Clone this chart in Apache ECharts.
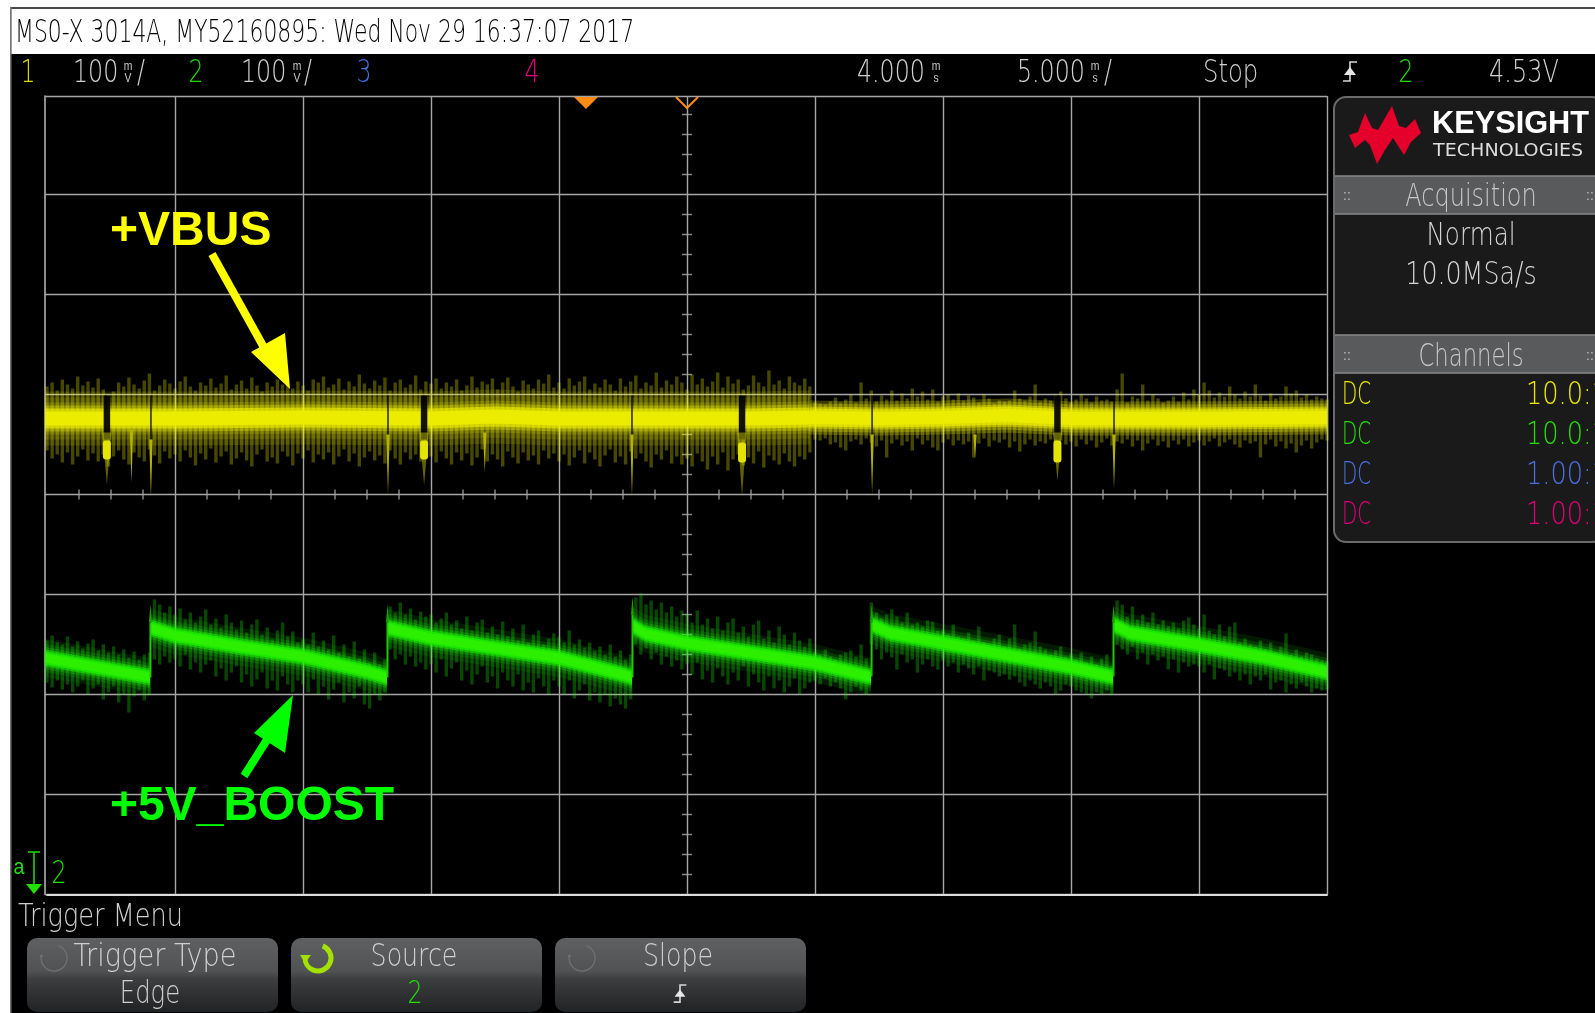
<!DOCTYPE html>
<html><head><meta charset="utf-8">
<style>html,body{margin:0;padding:0;background:#000;overflow:hidden}#c{width:1595px;height:1013px;filter:blur(.45px)}</style>
<script src="https://cdn.jsdelivr.net/npm/echarts@6/dist/echarts.min.js"></script></head>
<body><div id="c"></div>
<script>
// Trace centre lines: time in ms from screen centre, level in mV from screen centre
const yellowTimes=[-25.08,-20,-15,-10,-7.5,-5,0,2.5,4.8,7.5,10,12.5,15,17.5,20,25];
const yellowLevels=[76,76,77,76,78,76,76,76,77,76,77,79,76,76,76,77];
const greenTimes=[-25.08,-20.98,null,-20.94,-20,-17.5,-15,-12.5,-11.72,null,-11.68,-10,-7.5,-5,-2.5,-2.15,null,-2.11,-1.64,0,2.5,5,7.19,null,7.23,7.93,10,12.5,15,16.64,null,16.68,17.3,20,22.5,25];
const greenLevels=[-163.5,-182.5,null,-133.5,-141,-152,-162,-177,-183,null,-133.5,-143.5,-153.5,-163.5,-180,-183,null,-131.5,-139,-148.5,-158.5,-168.5,-182.5,null,-130.5,-138.5,-148.5,-160.5,-172.5,-182.5,null,-130.5,-138.5,-150.5,-162.5,-177.5];
const noiseStepMs=0.2, noiseStartMs=-25;
const yellowTop=[
108,112,104,115,110,106,118,109,113,107,116,105,100,103,112,108,117,110,106,114,121,104,109,115,111,
106,113,118,108,104,112,109,116,107,111,119,105,110,114,106,117,109,103,112,108,115,110,120,106,113,
109,104,115,112,118,107,110,116,105,113,108,120,111,106,114,109,117,104,112,115,107,110,119,105,113,
111,116,106,112,108,115,104,109,118,107,113,110,116,105,112,117,108,103,114,110,106,115,111,120,107,
112,106,116,109,113,118,105,111,107,115,110,104,116,108,113,119,106,112,109,122,107,114,110,118,112,
105,120,110,116,108,113,122,107,118,111,115,105,109,119,112,108,124,110,114,106,118,112,109,116,108,
92,91,90,93,97,92,95,100,92,112,96,104,93,99,95,104,94,101,96,106,98,103,95,105,93,
98,100,95,101,94,99,97,92,100,96,91,94,93,94,104,96,94,98,110,93,96,94,100,103,96,
92,95,100,96,92,98,94,95,93,105,121,92,98,96,110,94,100,96,92,94,98,93,102,95,105,
100,112,104,97,102,98,108,100,96,103,98,110,99,94,101,96,98,108,101,104,97,100,95,98,96,95];
const yellowBottom=[
44,36,40,32,42,30,38,45,34,41,33,40,28,38,44,35,30,42,37,33,45,39,31,43,36,
40,33,44,37,29,41,35,46,32,38,43,30,36,42,34,28,40,45,33,37,31,43,38,29,41,
36,44,32,40,35,42,30,38,45,33,41,28,37,43,34,39,31,44,36,30,42,35,40,33,45,
38,32,43,36,30,42,34,41,29,37,45,33,40,35,28,43,37,31,42,34,39,30,44,36,41,
33,40,29,37,44,31,42,35,28,39,45,32,38,30,43,36,41,33,27,40,35,44,31,38,30,
36,28,41,33,25,38,30,42,24,35,40,29,37,31,43,27,39,34,30,41,33,28,38,35,42,
55,54,56,50,52,47,44,53,55,50,56,52,48,54,37,51,55,49,53,44,56,50,54,47,44,
52,55,49,54,50,53,37,51,56,48,54,52,55,47,53,43,50,55,49,53,51,55,47,54,50,
53,48,55,50,54,47,52,56,49,53,51,55,48,54,44,51,55,49,53,47,54,50,55,48,52,
54,49,53,56,48,52,55,50,47,54,51,53,37,50,55,48,53,46,51,42,49,54,46,52,55,54];
const greenTop=[
-146,-141,-148,-150,-142,-152,-147,-154,-149,-145,-156,-150,-158,-152,-160,-155,-163,-157,-165,-160,-158,-105,-110,-118,-112,
-120,-114,-125,-118,-128,-122,-115,-130,-124,-133,-120,-128,-135,-126,-138,-130,-125,-140,-133,-145,-136,-128,-142,-137,-148,
-145,-150,-138,-152,-146,-155,-141,-158,-150,-162,-147,-164,-155,-168,-158,-170,-165,-112,-118,-108,-120,-114,-125,-117,-122,
-120,-128,-124,-118,-130,-126,-134,-122,-136,-128,-125,-138,-132,-140,-127,-142,-134,-146,-130,-148,-140,-136,-150,-144,-139,
-142,-148,-136,-150,-145,-153,-148,-156,-152,-160,-150,-162,-156,-165,-160,-103,-99,-110,-106,-115,-108,-118,-112,-122,-116,
-120,-128,-116,-130,-124,-134,-122,-136,-128,-124,-138,-132,-142,-130,-126,-144,-136,-148,-132,-140,-150,-138,-146,-152,-144,
-158,-160,-155,-162,-165,-160,-158,-156,-162,-150,-164,-108,-118,-124,-120,-115,-122,-128,-118,-130,-128,-132,-126,-127,-136,
-136,-140,-130,-142,-144,-138,-146,-132,-148,-150,-144,-140,-152,-144,-130,-154,-150,-148,-137,-152,-155,-160,-156,-152,-162,
-160,-165,-158,-168,-162,-170,-164,-160,-172,-106,-110,-122,-112,-125,-120,-128,-118,-130,-126,-132,-128,-134,-126,-123,-130,
-134,-120,-136,-140,-130,-142,-132,-128,-148,-144,-150,-152,-146,-155,-148,-158,-152,-139,-160,-155,-162,-158,-160,-164,-166,-167];
const greenBottom=[
-188,-193,-186,-195,-190,-198,-192,-186,-200,-194,-190,-205,-198,-192,-208,-200,-218,-202,-196,-206,-200,-165,-170,-162,-168,
-165,-172,-160,-175,-168,-178,-170,-166,-182,-174,-186,-178,-172,-188,-180,-192,-185,-178,-194,-186,-196,-182,-190,-198,-186,
-190,-198,-185,-200,-192,-205,-195,-188,-208,-198,-204,-192,-210,-214,-200,-206,-198,-155,-165,-160,-170,-162,-172,-168,-175,
-170,-178,-165,-182,-174,-168,-186,-176,-190,-180,-172,-188,-182,-194,-178,-186,-192,-180,-196,-188,-198,-184,-192,-200,-186,
-192,-200,-186,-204,-196,-190,-206,-198,-208,-200,-212,-204,-210,-214,-205,-150,-160,-154,-165,-158,-170,-162,-172,-166,-175,
-170,-180,-168,-185,-176,-188,-174,-182,-190,-178,-186,-172,-192,-180,-188,-196,-182,-194,-186,-198,-192,-184,-200,-194,-188,
-186,-190,-184,-192,-188,-194,-205,-198,-192,-196,-200,-150,-155,-165,-158,-163,-175,-160,-168,-165,-178,-170,-165,-172,-175,
-165,-172,-168,-178,-170,-174,-180,-172,-186,-176,-178,-182,-180,-185,-182,-188,-192,-186,-190,-194,-188,-192,-200,-196,-190,
-192,-196,-198,-200,-204,-198,-200,-196,-200,-150,-155,-160,-152,-165,-158,-170,-160,-166,-162,-175,-165,-178,-168,-172,-170,
-172,-178,-170,-185,-174,-176,-182,-178,-186,-180,-190,-182,-186,-180,-195,-188,-186,-198,-190,-194,-188,-192,-198,-194,-196,-195];
// Green rising edges: time, low, peak
const greenEdgeTimes=[-20.96,-11.7,-2.13,7.21,16.66];
const greenEdgeLow=[-183,-183,-183,-182,-182];
const greenEdgePeak=[-110,-110,-102,-110,-110];
// Yellow droops: time, start level, lowest level
const droopTimes=[-21.7,-20.94,-11.68,-7.9,-2.15,7.23,11.25,16.68];
const droopStart=[65,55,60,62,60,60,60,60];
const droopLow=[12,-3,1,22,-2,1,36,6];
const blobTimes=[-22.66,-10.27,2.15,14.47];
const blobTailLow=[10,9,-2,14];
const blobBright=[[54,35],[54,35],[52,32],[54,32]];
const notchLevels=[99,55];
const zoneSplitMs=4.8;
const channelRows=[['#e8e800','10.0:1'],['#24e000','10.0:1'],['#4a6fe0','1.00:1'],['#e0007a','1.00:1']];

const xMinor=[],yMinor=[];
for(let i=1;i<40;i++){if(i%4)xMinor.push([-25+1.25*i,0]);}
for(let i=1;i<40;i++){if(i%5)yMinor.push([0,-400+20*i]);}

const FONT='"DejaVu Sans"', FW='200', SX=.74;
const noiseData=(top,bot)=>top.map((h,i)=>[noiseStartMs+noiseStepMs*i,bot[i],h]);
const pairs=(ts,vs)=>ts.map((t,i)=>[t,vs[i]]);
function rects(w,fill,z,data,name,r){return {type:'custom',name,silent:true,z,data,encode:{x:0,y:[1,2]},clip:false,animation:false,
  renderItem:(p,api)=>{const a=api.coord([api.value(0),api.value(2)]),b=api.coord([api.value(0),api.value(1)]);
    return {type:'rect',shape:{x:a[0]-w/2,y:a[1],width:w,height:b[1]-a[1],r:r||0},style:{fill}};}};}
function spikes(w,fill,z,data,name){return {type:'custom',name,silent:true,z,data,encode:{x:0,y:[1,2]},animation:false,
  renderItem:(p,api)=>{const a=api.coord([api.value(0),api.value(2)]),b=api.coord([api.value(0),api.value(1)]);
    return {type:'polygon',shape:{points:[[a[0]-w/2,a[1]],[a[0]+w/2,a[1]],[b[0],b[1]]]},style:{fill}};}};}
function band(data,width,color,z,name){return {type:'line',name,silent:true,z,data,symbol:'none',clip:false,animation:false,
  lineStyle:{width,color,cap:'butt',join:'round'}};}
// sawtooth band: each ramp is one polygon with upright ends
const gSegs=[];{let cur=[];greenTimes.forEach((t,i)=>{if(t===null){gSegs.push(cur);cur=[];}else cur.push([t,greenLevels[i]]);});gSegs.push(cur);}
function ramp(half,fill,z,name){return {type:'custom',name,silent:true,z,clip:false,animation:false,data:gSegs.map((s,i)=>[s[0][0],s[0][1],i]),encode:{x:0,y:1},
  renderItem:(p,api)=>{const px=gSegs[api.value(2)].map(q=>api.coord(q));
    return {type:'polygon',shape:{points:px.map(q=>[q[0],q[1]-half]).concat(px.slice().reverse().map(q=>[q[0],q[1]+half]))},style:{fill}};}};}

const yNoisy=pairs(yellowTimes,yellowLevels).filter(p=>p[0]<=zoneSplitMs);
const yQuiet=pairs(yellowTimes,yellowLevels).filter(p=>p[0]>=zoneSplitMs);

const series=[
 {type:'scatter',name:'xTicks',silent:true,z:1,data:xMinor,symbol:'rect',symbolSize:[1.5,10],itemStyle:{color:'#a8a8a8'},animation:false},
 {type:'scatter',name:'yTicks',silent:true,z:1,data:yMinor,symbol:'rect',symbolSize:[10,1.5],itemStyle:{color:'#a8a8a8'},animation:false},
 rects(3.4,'rgba(255,255,0,.28)',3,noiseData(yellowTop,yellowBottom),'CH1 noise'),
 band(yNoisy,54,'rgba(255,255,0,.13)',4,'b0'),band(yNoisy,42,'rgba(255,255,0,.12)',4,'b1'),band(yNoisy,32,'rgba(255,255,0,.16)',4,'b2'),band(yNoisy,26,'rgba(255,255,0,.3)',5,'b3'),band(yNoisy,20,'rgba(245,245,0,.6)',5,'b4'),band(yNoisy,14,'#ecec00',7,'b6'),
 band(yQuiet,34,'rgba(255,255,0,.22)',4,'q1'),band(yQuiet,28,'rgba(255,255,0,.26)',5,'q2'),band(yQuiet,22,'rgba(245,245,0,.45)',5,'q3'),band(yQuiet,18,'rgba(240,240,0,.65)',6,'q4'),band(yQuiet,13,'#ecec00',7,'q5'),
 rects(6.5,'rgba(0,0,0,.92)',8,blobTimes.map(t=>[t,notchLevels[1],notchLevels[0]]),'wide notches'),
 rects(1.8,'rgba(0,0,0,.7)',8,[droopTimes[1],droopTimes[2],droopTimes[4],droopTimes[5],droopTimes[7]].map(t=>[t,notchLevels[1],notchLevels[0]]),'thin notches'),
 spikes(9,'rgba(230,230,0,.42)',9,blobTimes.map((t,i)=>[t,blobTailLow[i],62]),'blob tails'),
 rects(8,'#e4e400',10,blobTimes.map((t,i)=>[t,blobBright[i][1],blobBright[i][0]]),'blobs',3),
 spikes(3.4,'#b4b400',9,droopTimes.map((t,i)=>[t,droopLow[i],droopStart[i]]),'droops'),
 rects(3.4,'rgba(30,255,0,.28)',3,noiseData(greenTop,greenBottom),'CH2 noise'),
 ramp(19,'rgba(30,255,0,.1)',4,'g0'),ramp(14,'rgba(30,255,0,.14)',4,'g1'),ramp(11,'rgba(30,255,0,.22)',4,'g2'),ramp(8.5,'rgba(30,245,0,.5)',5,'g3'),ramp(6.5,'rgba(30,240,0,.8)',6,'g4'),ramp(4.5,'#2cf000',7,'g5'),
 rects(2,'#22c800',8,greenEdgeTimes.map((t,i)=>[t,greenEdgeLow[i],greenEdgePeak[i]-18]),'edges'),
 spikes(3,'#1ea000',8,greenEdgeTimes.map((t,i)=>[t,greenEdgePeak[i],greenEdgePeak[i]-18]),'edge peaks')
];

// ---- instrument furniture (text and panels) ----
const g=[];
const Z=100;
function R(x,y,w,h,fill,r,stroke){g.push({type:'rect',z:Z,silent:true,shape:{x,y,width:w,height:h,r:r||0},style:{fill,stroke:stroke||null,lineWidth:stroke?2:0}});}
function T(x,y,text,size,fill,align,sx,font,weight){g.push({type:'text',z:Z+1,silent:true,x,y,scaleX:sx||SX,style:{text,x:0,y:0,fill,align:align||'left',verticalAlign:'middle',font:(weight||FW)+' '+size+'px '+(font||FONT)}});}
function P(points,fill){g.push({type:'polygon',z:Z+1,silent:true,shape:{points},style:{fill}});}
function L(points,stroke,w){g.push({type:'polyline',z:Z+1,silent:true,shape:{points},style:{stroke,lineWidth:w,fill:null}});}
function stack(x,y,top,bot){T(x,y-6,top,13,'#c8c8c8','center',.8,'"Liberation Sans"','normal');T(x,y+6,bot,13,'#c8c8c8','center',.8,'"Liberation Sans"','normal');}
function trig(cx,cy,s){L([[cx+7*s,cy-10*s],[cx,cy-10*s],[cx,cy+9*s],[cx-7*s,cy+9*s]],'#d8d8d8',1.6);P([[cx-6*s,cy+3*s],[cx+6*s,cy+3*s],[cx,cy-5*s]],'#e8e8e8');}
function ring(cx,cy,r,stroke,w){g.push({type:'arc',z:Z+1,silent:true,shape:{cx,cy,r,startAngle:-1.2,endAngle:3.2,clockwise:true},style:{stroke,lineWidth:w,fill:null}});P([[cx-r-w,cy],[cx-r+w+1,cy],[cx-r,cy+w+3]].map(p=>[p[0],p[1]-3]),stroke);}

// screenshot frame
R(0,0,1595,7,'#ffffff');R(0,0,10,1013,'#ffffff');R(10,7,1585,2,'#4a4a4a');R(10,7,1.5,1006,'#777777');R(11.5,9,1584,45,'#ffffff');
T(15,34,'MS0-X 3014A, MY52160895: Wed Nov 29 16:37:07 2017',32,'#000000','left',.685);
// status line
const gy=74,gc='#d0d0d0',FS=32;
T(28,gy,'1',FS,'#d8d800','center');T(73,gy,'100',FS,gc);stack(128,gy-2,'m','V');T(137,gy,'/',FS,gc);
T(196,gy,'2',FS,'#20e000','center');T(241,gy,'100',FS,gc);stack(297,gy-2,'m','V');T(304,gy,'/',FS,gc);
T(364,gy,'3',FS,'#4a6fe0','center');T(532,gy,'4',FS,'#e0007a','center');
T(857,gy,'4.000',FS,gc);stack(936,gy-2,'m','s');T(1017,gy,'5.000',FS,gc);stack(1095,gy-2,'m','s');T(1104,gy,'/',FS,gc);
T(1203,gy,'Stop',FS,gc,'left',.76);trig(1350,72,1);T(1406,gy,'2',FS,'#20e000','center');T(1489,gy,'4.53V',FS,gc,'left',.75);
// time reference markers
P([[574,97],[598,97],[586,109]],'#ff8a14');
L([[676,97],[687,108],[698,97]],'#ff8a14',2);
// annotations
T(110,232,'+VBUS',48,'#ffff00','left',1,'"Liberation Sans"','bold');
L([[212,254],[272,362]],'#ffff00',8);P([[290,389],[251,352],[285,333]],'#ffff00');
T(110,807,'+5V_BOOST',48,'#00ff00','left',1,'"Liberation Sans"','bold');
L([[244,776],[270,735]],'#00ff00',8);P([[293,695],[254,733],[285,753]],'#00ff00');
// ground/trigger marker
T(19,868,'a',22,'#20e000','center',.9,'"Liberation Sans"','normal');L([[34,852],[34,886]],'#20e000',1.5);L([[28,852],[40,852]],'#20e000',1.5);P([[26,884],[42,884],[34,894]],'#20e000');
T(59,875,'2',FS,'#20e000','center');
// right panel
R(1334,97,270,445,'#1a1a1a',12,'#6a6a6a');
P([[1349,135],[1358,132],[1365,113],[1372,128],[1378,130],[1392,106],[1399,126],[1406,128],[1415,119],[1421,133],[1411,142],[1404,155],[1393,138],[1385,150],[1377,164],[1370,145],[1365,140],[1355,148]],'#e4002b');
T(1432,124,'KEYSIGHT',32,'#ffffff','left',.96,'"Liberation Sans"','bold');
T(1433,151,'TECHNOLOGIES',18,'#dcdcdc','left',1.06,'"DejaVu Sans"','normal');
[[176,38,'Acquisition',198,.75],[335,38,'Channels',358,.71]].forEach(b=>{R(1335,b[0],260,b[1],'#585a5c');L([[1335,b[0]],[1595,b[0]]],'#8a8a8a',1.5);L([[1335,b[0]+b[1]],[1595,b[0]+b[1]]],'#8a8a8a',1.5);
  T(1471,b[3],b[2],FS,'#c8c8c8','center',b[4]);T(1347,b[3]-2,'::',14,'#bdbdbd','center',1,'"Liberation Sans"','normal');T(1590,b[3]-2,'::',14,'#bdbdbd','center',1,'"Liberation Sans"','normal');});
T(1471,237,'Normal',FS,'#d4d4d4','center',.77);T(1471,276,'10.0MSa/s',FS,'#d4d4d4','center',.79);
channelRows.forEach((r,i)=>{const y=396+40*i;T(1342,y,'DC',FS,r[0],'left',.62);T(1526,y,r[1],FS,r[0],'left',.8);});
// softkeys
T(18,918,'Trigger Menu',FS,'#cfcfcf','left',.8);
const keyFill={type:'linear',x:0,y:0,x2:0,y2:1,colorStops:[{offset:0,color:'#5e6062'},{offset:.45,color:'#505254'},{offset:.55,color:'#3c3e40'},{offset:1,color:'#202224'}]};
[27,291,555].forEach(x=>R(x,938,251,74,keyFill,10));
T(155,958,'Trigger Type',FS,'#cfcfcf','center',.85);T(150,995,'Edge',FS,'#cfcfcf','center',.76);
T(414,958,'Source',FS,'#cfcfcf','center',.79);T(415,995,'2',FS,'#20e000','center');
T(678,958,'Slope',FS,'#cfcfcf','center',.79);trig(680,994,.9);
ring(54,958,13,'#6f7173',1.3);ring(318,958,13,'#a4e000',5);ring(582,958,13,'#6f7173',1.3);

const chart=echarts.init(document.getElementById('c'),null,{renderer:'canvas',width:1595,height:1013});
chart.setOption({
 animation:false,backgroundColor:'#000',
 grid:{left:47,top:96,width:1280,height:798.5,containLabel:false},
 tooltip:{show:false},legend:{show:false},
 xAxis:{type:'value',min:-25,max:25,interval:5,
   axisLine:{show:true,onZero:false,lineStyle:{color:'#dddddd',width:2}},axisTick:{show:false},axisLabel:{show:false},
   splitLine:{show:true,showMinLine:false,lineStyle:{color:'#a6a6a6',width:1.4}}},
 yAxis:{type:'value',min:-400,max:398.5,interval:100,offset:2,
   axisLine:{show:true,onZero:false,lineStyle:{color:'#b0b0b0',width:1.6}},axisTick:{show:true,inside:true,length:2,lineStyle:{color:'#a6a6a6',width:1.4}},axisLabel:{show:false},
   splitLine:{show:true,lineStyle:{color:'#a6a6a6',width:1.4}}},
 series,
 graphic:{elements:g}
});
</script></body></html>
